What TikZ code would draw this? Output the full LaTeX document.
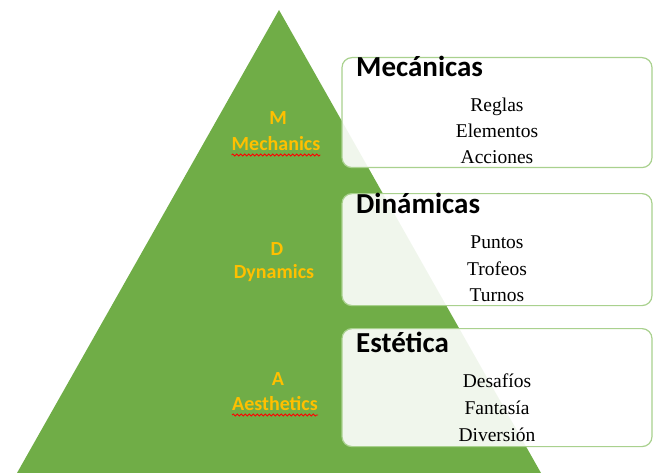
\documentclass[tikz,border=0pt]{standalone}
\usepackage{fontspec}
\setmainfont{Liberation Serif}
\newfontfamily\headfont{Carlito}
\usetikzlibrary{decorations.pathmorphing}
\definecolor{pyrgreen}{HTML}{70AD47}
\definecolor{boxline}{HTML}{A9D18E}
\definecolor{labelgold}{HTML}{FFC000}
\tikzset{
  % style for the rounded boxes on the right
  layer box/.style={draw=boxline, line width=1.2pt, fill=white, fill opacity=0.9,
    rounded corners=10pt, minimum width=310pt, inner sep=0pt},
  % style for the box titles
  layer title/.style={font=\headfont\bfseries\fontsize{29}{34}\selectfont,
    anchor=base west, inner sep=0pt},
  % style for the items in a box
  layer item/.style={font=\fontsize{19.5}{23}\selectfont, anchor=base, inner sep=0pt},
  % style for the labels on the pyramid
  pyramid label/.style={font=\headfont\bfseries\fontsize{20}{24}\selectfont,
    text=labelgold, anchor=base, inner sep=0pt},
  % red wavy underline
  spell mark/.style={draw=red, line width=0.8pt, decorate,
    decoration={snake, amplitude=1pt, segment length=4pt}},
}
\begin{document}
\begin{tikzpicture}[x=1pt, y=-1pt]
\useasboundingbox (0,0) rectangle (655,473);

% Pyramid
\fill[pyrgreen] (279,10) -- (17,473) -- (541,473) -- cycle;

% Boxes and titles
\foreach \nm/\top/\bot/\ttl/\tb in {mech/57/167/Mecánicas/77, dyn/193/305/Dinámicas/213, aes/328/446/Estética/352} {
  \node[layer box, minimum height=\bot-\top, anchor=north] (\nm) at (497,\top) {};
  \node[layer title] (\nm-title) at (356,\tb) {\ttl};
}

% Items
\foreach \txt/\y [count=\i] in {Reglas/112, Elementos/138, Acciones/164,
    Puntos/248, Trofeos/275, Turnos/301,
    Desafíos/387, Fantasía/414, Diversión/441} {
  \node[layer item] (item\i) at (497,\y) {\txt};
}

% Pyramid labels
\node[pyramid label] (mech-letter) at (278,125) {M};
\node[pyramid label] (mech-word) at (276,150) {Mechanics};
\node[pyramid label] (dyn-letter) at (277,255) {D};
\node[pyramid label] (dyn-word) at (274,278) {Dynamics};
\node[pyramid label] (aes-letter) at (278,385) {A};
\node[pyramid label] (aes-word) at (275,410) {Aesthetics};

% Spelling marks
\draw[spell mark] ([yshift=-5pt]mech-word.base west) -- ([yshift=-5pt]mech-word.base east);
\draw[spell mark] ([yshift=-5pt]aes-word.base west) -- ([yshift=-5pt]aes-word.base east);

\end{tikzpicture}
\end{document}
